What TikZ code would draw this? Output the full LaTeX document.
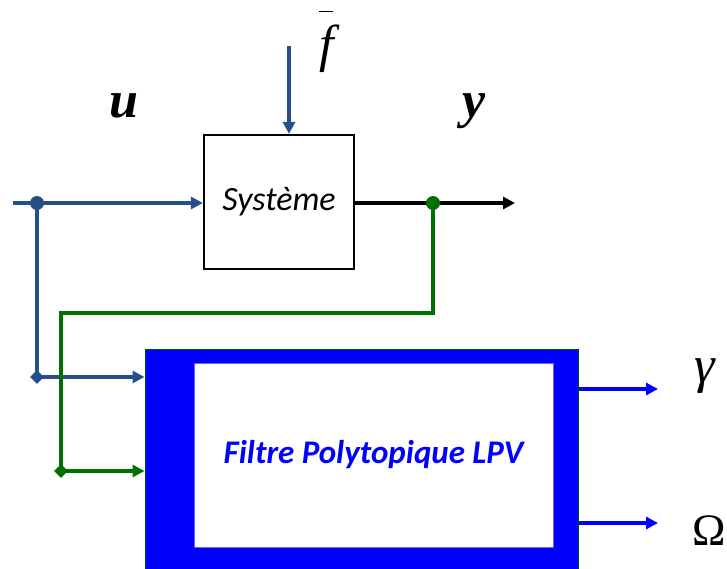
\documentclass[tikz,border=0pt]{standalone}
\usepackage{fontspec}
\setmainfont{Liberation Serif}
\newfontfamily\calib{Carlito}
\usetikzlibrary{arrows.meta,shapes.geometric}
\definecolor{sigblue}{RGB}{38,79,135}
\definecolor{siggreen}{RGB}{0,112,0}
\definecolor{lpvblue}{RGB}{0,0,255}
\begin{document}
\begin{tikzpicture}[x=1pt,y=-1pt,
  sig/.style={line width=3.4pt},
  tip/.style={-{Triangle[length=12pt,width=12pt]}},
  junction/.style={circle,fill,inner sep=0pt,minimum size=14pt},
  corner/.style={diamond,fill,inner sep=0pt,minimum width=14pt,minimum height=14pt},
  biglabel/.style={inner sep=0pt,font=\fontsize{52}{62}\selectfont}]
\useasboundingbox (0,0) rectangle (727,568);
% blocks
\node[draw,line width=2.2pt,minimum width=150pt,minimum height=134pt,inner sep=0pt]
  (sys) at (279,202) {\calib\itshape\fontsize{34}{40}\selectfont Système};
\node[draw=siggreen!70!black,line width=1pt,fill=lpvblue,minimum width=433pt,minimum height=251pt,inner sep=0pt]
  (filt) at (361.5,474.5) {};
\node[fill=white,draw=lpvblue!60,line width=0.5pt,minimum width=359pt,minimum height=184pt,inner sep=0pt,text=lpvblue]
  (inner) at (373.5,455) {\calib\bfseries\itshape\fontsize{33}{39}\selectfont Filtre Polytopique LPV};
% coordinates
\coordinate (start) at (13,203);
\coordinate (j1) at (37,203);
\coordinate (d1) at (37,377);
\coordinate (j2) at (433,203);
\coordinate (c1) at (433,313);
\coordinate (c2) at (61,313);
\coordinate (d2) at (61,471);
\coordinate (yend) at (515,203);
\coordinate (ftop) at (289,46);
\coordinate (gout) at (658,389);
\coordinate (oout) at (658,523);
% blue input
\draw[sig,sigblue,tip] (start) -- (start -| sys.west);
\draw[sig,sigblue] (j1) -- (d1);
\draw[sig,sigblue,tip] (d1) -- (d1 -| filt.west);
\node[junction,sigblue] (dot1) at (j1) {};
\node[corner,sigblue] (dia1) at (d1) {};
% disturbance
\draw[sig,sigblue,tip] (ftop) -- (ftop |- sys.north);
% output
\draw[sig,black,tip] (sys.east |- j2) -- (yend);
% green feedback
\draw[sig,siggreen] (j2) -- (c1) -- (c2) -- (d2);
\draw[sig,siggreen,tip] (d2) -- (d2 -| filt.west);
\node[junction,siggreen] (dot2) at (j2) {};
\node[corner,siggreen] (dia2) at (d2) {};
% filter outputs
\draw[sig,lpvblue,tip] (gout -| filt.east) -- (gout);
\draw[sig,lpvblue,tip] (oout -| filt.east) -- (oout);
% labels
\node[biglabel,anchor=base] (ulab) at (124,117) {\bfseries\itshape u};
\node[biglabel,anchor=base] (ylab) at (474,117) {\bfseries\itshape y};
\node[biglabel,anchor=base] (flab) at (327,61) {\itshape f\llap{\raisebox{49pt}{\rule{14pt}{1.2pt}}\hspace{1pt}}};
\node[biglabel,anchor=base] (glab) at (705,382) {\itshape γ};
\node[inner sep=0pt,anchor=base west,font=\fontsize{45}{54}\selectfont] (olab) at (692,545) {Ω};
\end{tikzpicture}
\end{document}
